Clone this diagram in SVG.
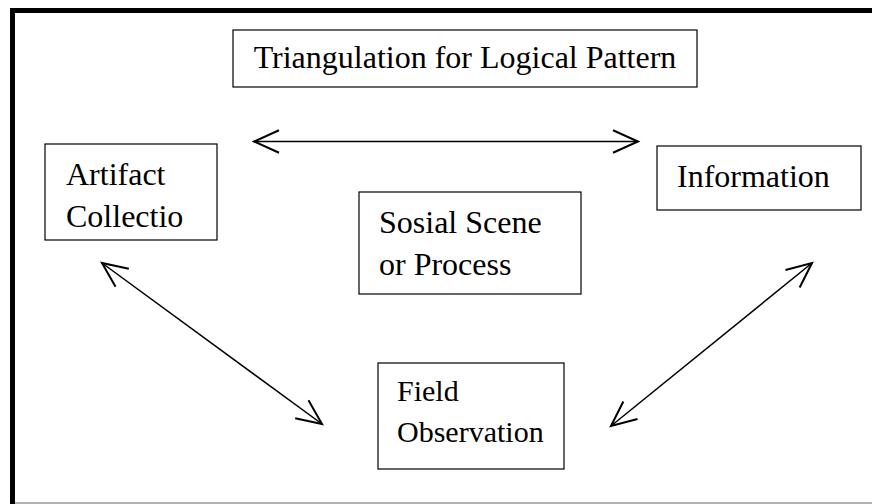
<svg xmlns="http://www.w3.org/2000/svg" width="872" height="504" viewBox="0 0 872 504">
<defs>
<style>
.box{fill:#fff;stroke:#000;stroke-width:1.2}
.t{font-family:"Liberation Serif","Times New Roman",serif;font-size:32px;fill:#000}
.s{font-size:30px}
.c{stroke:#000;stroke-width:1.5;fill:none}
</style>
<marker id="ah" markerUnits="userSpaceOnUse" markerWidth="30" markerHeight="30" viewBox="-22 -11 24 22" refX="0" refY="0" orient="auto-start-reverse">
<path d="M-20,-9 L0,0 L-20,9" fill="none" stroke="#000" stroke-width="1.6"/>
</marker>
</defs>
<rect width="872" height="504" fill="#fff"/>
<g id="frame">
<line x1="10" y1="10.5" x2="872" y2="10.5" stroke="#000" stroke-width="5"/>
<line x1="12.5" y1="8" x2="12.5" y2="504" stroke="#000" stroke-width="5"/>
<line x1="15" y1="503" x2="872" y2="503" stroke="#999" stroke-width="1.5"/>
</g>
<g id="title">
<rect class="box" x="233" y="30" width="464" height="57"/>
<text class="t" x="465" y="68" text-anchor="middle">Triangulation for Logical Pattern</text>
</g>
<g id="artifact">
<rect class="box" x="45" y="144" width="172" height="96"/>
<text class="t" x="66" y="185">Artifact</text>
<text class="t" x="66" y="227">Collectio</text>
</g>
<g id="information">
<rect class="box" x="657" y="146" width="204" height="64"/>
<text class="t" x="677" y="187">Information</text>
</g>
<g id="social">
<rect class="box" x="359" y="192" width="222" height="102"/>
<text class="t" x="379" y="233">Sosial Scene</text>
<text class="t" x="379" y="275">or Process</text>
</g>
<g id="field">
<rect class="box" x="378" y="363" width="186" height="106"/>
<text class="t s" x="397" y="401">Field</text>
<text class="t s" x="397" y="442">Observation</text>
</g>
<g id="connectors">
<line class="c" x1="254" y1="141.5" x2="638" y2="141.5" marker-start="url(#ah)" marker-end="url(#ah)"/>
<line class="c" x1="102" y1="263" x2="322" y2="424" marker-start="url(#ah)" marker-end="url(#ah)"/>
<line class="c" x1="812" y1="263" x2="611" y2="426" marker-start="url(#ah)" marker-end="url(#ah)"/>
</g>
</svg>
